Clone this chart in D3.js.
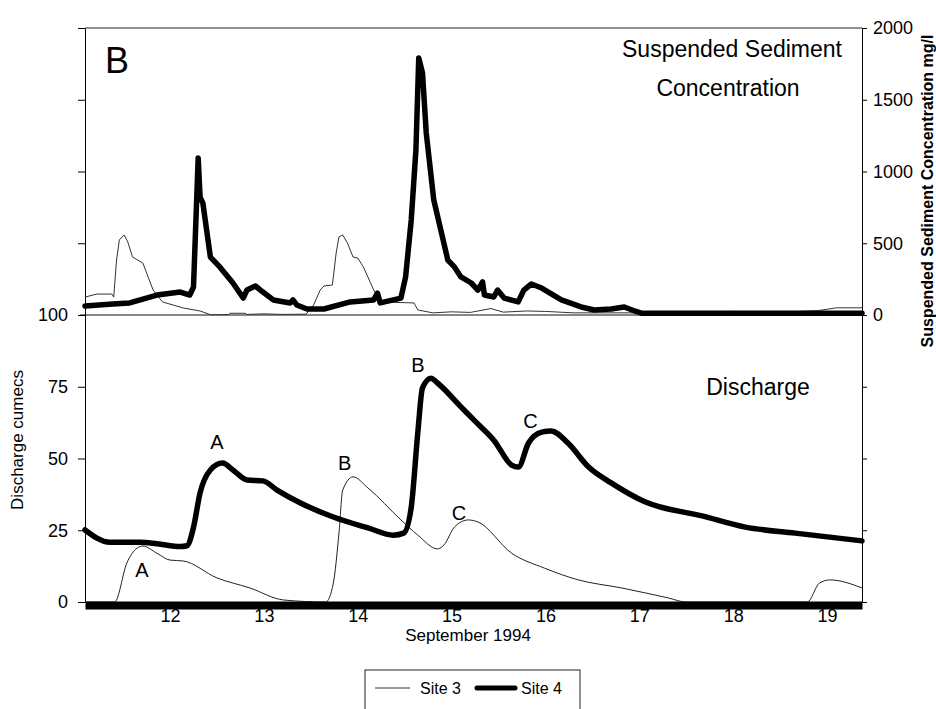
<!DOCTYPE html>
<html>
<head>
<meta charset="utf-8">
<script src="https://cdn.jsdelivr.net/npm/d3@7"></script>
<style>
  body { margin: 0; background: #fff; }
  svg { font-family: "Liberation Sans", Arial, sans-serif; }
</style>
</head>
<body>
<div class="chart"></div>
<script>
// data (days in September 1994)
const q4Day = [11.094, 11.36, 11.68, 11.86, 12.11, 12.18, 12.25, 12.32, 12.43, 12.56, 12.67, 12.82, 12.99, 13.14, 13.39, 13.74, 14.11, 14.38, 14.49, 14.57, 14.64, 14.69, 14.78, 14.85, 15.10, 15.25, 15.45, 15.64, 15.71, 15.82, 15.96, 16.06, 16.24, 16.46, 16.70, 17.06, 17.67, 18.13, 18.66, 19.373]
const q4 = [25.1, 20.8, 20.8, 20.3, 19.3, 19.6, 26, 38, 46, 48.4, 46, 42.5, 42.2, 39, 34.5, 29.6, 25.8, 23.3, 24, 33, 59, 74.6, 78, 76.3, 68, 63, 56.4, 47.7, 47, 55.4, 59.2, 59.6, 55.4, 47, 41.5, 34.9, 30, 26.1, 24, 21.3]

const q3Day = [11.094, 11.41, 11.54, 11.65, 11.71, 11.86, 12.0, 12.14, 12.50, 12.85, 13.21, 13.66, 13.74, 13.80, 13.84, 13.95, 14.11, 14.46, 14.64, 14.85, 14.92, 15.03, 15.18, 15.28, 15.64, 15.99, 16.35, 16.81, 17.31, 17.5, 18.79, 18.92, 19.03, 19.373]
const q3 = [0, 0, 13.6, 18.8, 19.5, 17, 14.6, 14.3, 8.4, 4.9, 0.7, 0, 6.6, 24, 39, 43.6, 39.7, 28.6, 23.3, 18.5, 19.9, 26.1, 28.6, 27.9, 17, 11.8, 7.7, 4.9, 1.4, 0, 0, 6.6, 7.7, 4.9]

const ssc4Day = [11.094, 11.39, 11.57, 11.86, 12.11, 12.21, 12.25, 12.30, 12.32, 12.35, 12.43, 12.53, 12.67, 12.78, 12.82, 12.91, 12.99, 13.10, 13.28, 13.31, 13.35, 13.46, 13.64, 13.92, 14.17, 14.21, 14.24, 14.46, 14.51, 14.57, 14.62, 14.65, 14.69, 14.73, 14.81, 14.96, 15.03, 15.10, 15.21, 15.28, 15.33, 15.35, 15.45, 15.49, 15.56, 15.71, 15.77, 15.85, 15.96, 16.17, 16.38, 16.52, 16.70, 16.84, 16.95, 17.03, 19.373]
const ssc4 = [63, 77, 84, 139, 160, 139, 195, 1094, 822, 780, 404, 335, 223, 118, 174, 202, 160, 105, 84, 105, 70, 42, 42, 91, 105, 153, 84, 118, 265, 662, 1150, 1791, 1687, 1268, 802, 383, 335, 265, 223, 174, 230, 139, 125, 174, 118, 91, 174, 216, 188, 105, 56, 35, 42, 56, 28, 12, 12]

const ssc3Day = [11.094, 11.22, 11.38, 11.40, 11.43, 11.46, 11.51, 11.55, 11.60, 11.71, 11.82, 11.92, 12.14, 12.32, 12.43, 12.62, 12.64, 12.80, 12.82, 13.00, 13.20, 13.45, 13.53, 13.60, 13.64, 13.73, 13.77, 13.80, 13.84, 13.89, 13.95, 14.00, 14.06, 14.17, 14.24, 14.60, 14.64, 14.80, 15.00, 15.20, 15.42, 15.55, 15.80, 16.00, 16.30, 17.00, 17.50, 18.00, 18.50, 18.90, 19.10, 19.373]
const ssc3 = [125, 146, 146, 125, 383, 523, 558, 509, 404, 362, 174, 91, 49, 28, 2, 2, 12, 12, 4, 8, 4, 6, 70, 174, 202, 209, 432, 544, 558, 502, 404, 397, 335, 174, 91, 84, 35, 15, 22, 18, 45, 20, 28, 25, 15, 15, 22, 25, 20, 30, 50, 50]

const dayTicks = [12, 13, 14, 15, 16, 17, 18, 19]
const qTicks = [0, 25, 50, 75, 100, 125, 150, 175, 200]
const sscTicks = [-2000, -1500, -1000, -500, 0, 500, 1000, 1500, 2000]

// peak labels (day, discharge)
const peakText = ["A", "A", "B", "B", "C", "C"]
const peakDay = [11.70, 12.50, 13.86, 14.64, 15.08, 15.84]
const peakQ = [8.7, 53.3, 46, 80.1, 28.6, 60.6]

const w = 936
const h = 709
const padL = 85, padR = 862, padT = 28, padB = 602

const svg = d3.select(".chart").append("svg")
  .attr("width", w)
  .attr("height", h)
  .style("background-color", "#fff")

const x = d3.scaleLinear().domain([11.094, 19.373]).range([padL, padR])
const yQ = d3.scaleLinear().domain([0, 200]).range([padB, padT])
const yS = d3.scaleLinear().domain([-2000, 2000]).range([padB, padT])

const zip = (a, b) => a.map((d, i) => [d, b[i]])

// frame lines
svg.append("line")
  .attr("x1", padL).attr("x2", padR)
  .attr("y1", yQ(200)).attr("y2", yQ(200))
  .attr("stroke", "#222").attr("stroke-width", 1)
svg.append("line")
  .attr("x1", padL - 5).attr("x2", padR)
  .attr("y1", yQ(100)).attr("y2", yQ(100))
  .attr("stroke", "#111").attr("stroke-width", 1.2)

// left axis (discharge)
const yAxisL = d3.axisLeft(yQ).tickValues(qTicks).tickSize(7).tickSizeOuter(0).tickPadding(10)
  .tickFormat(d => d <= 100 ? d : "")
svg.append("g")
  .attr("transform", "translate(" + padL + ",0)")
  .call(yAxisL)
  .call(g => g.selectAll("text").attr("font-size", 18).attr("font-family", "Liberation Sans, Arial"))

// right axis (sediment)
const yAxisR = d3.axisRight(yS).tickValues(sscTicks).tickSize(5).tickSizeOuter(0).tickPadding(6)
  .tickFormat(d => d >= 0 ? d : "")
svg.append("g")
  .attr("transform", "translate(" + padR + ",0)")
  .call(yAxisR)
  .call(g => g.selectAll("text").attr("font-size", 18).attr("font-family", "Liberation Sans, Arial"))

// lines
const qLine = d3.line().x(d => x(d[0])).y(d => yQ(d[1])).curve(d3.curveMonotoneX)
const sLine = d3.line().x(d => x(d[0])).y(d => yS(d[1]))

svg.append("path")
  .datum(zip(q3Day, q3))
  .attr("d", qLine)
  .attr("fill", "none").attr("stroke", "#222").attr("stroke-width", 1)

svg.append("path")
  .datum(zip(ssc3Day, ssc3))
  .attr("d", sLine)
  .attr("fill", "none").attr("stroke", "#333").attr("stroke-width", 1)

svg.append("path")
  .datum(zip(q4Day, q4))
  .attr("d", qLine)
  .attr("fill", "none").attr("stroke", "#000").attr("stroke-width", 5.5)
  .attr("stroke-linejoin", "round").attr("stroke-linecap", "round")

svg.append("path")
  .datum(zip(ssc4Day, ssc4))
  .attr("d", sLine)
  .attr("fill", "none").attr("stroke", "#000").attr("stroke-width", 5.5)
  .attr("stroke-linejoin", "round").attr("stroke-linecap", "round")

// bottom axis, drawn as the heavy base bar
const xAxis = d3.axisBottom(x).tickValues(dayTicks).tickSize(0).tickSizeOuter(0).tickPadding(4)
svg.append("g")
  .attr("transform", "translate(0," + (padB + 3) + ")")
  .attr("id", "x-axis")
  .call(xAxis)
  .call(g => g.select(".domain").attr("stroke-width", 8).attr("stroke", "#000"))
  .call(g => g.selectAll("text").attr("font-size", 18).attr("font-family", "Liberation Sans, Arial"))

// peak labels
svg.selectAll(".peak")
  .data(peakText)
  .enter()
  .append("text")
  .attr("class", "peak")
  .attr("x", (d, i) => x(peakDay[i]))
  .attr("y", (d, i) => yQ(peakQ[i]))
  .attr("text-anchor", "middle")
  .attr("font-size", 20)
  .text(d => d)

// titles
svg.append("text").attr("x", 105).attr("y", 73).attr("font-size", 36).text("B")
svg.append("text").attr("x", 732).attr("y", 57).attr("text-anchor", "middle").attr("font-size", 23).text("Suspended Sediment")
svg.append("text").attr("x", 728).attr("y", 96).attr("text-anchor", "middle").attr("font-size", 23).text("Concentration")
svg.append("text").attr("x", 758).attr("y", 395).attr("text-anchor", "middle").attr("font-size", 23).text("Discharge")

svg.append("text").attr("x", 468).attr("y", 641).attr("text-anchor", "middle").attr("font-size", 17).text("September 1994")

svg.append("text")
  .attr("transform", "translate(23,440) rotate(-90)")
  .attr("text-anchor", "middle").attr("font-size", 17)
  .text("Discharge cumecs")

svg.append("text")
  .attr("transform", "translate(933,191) rotate(-90)")
  .attr("text-anchor", "middle").attr("font-size", 16).attr("font-weight", "bold")
  .text("Suspended Sediment Concentration mg/l")

// legend
const lg = svg.append("g").attr("transform", "translate(365,670)")
lg.append("rect").attr("width", 215).attr("height", 50).attr("fill", "none").attr("stroke", "#222")
lg.append("line").attr("x1", 10).attr("x2", 45).attr("y1", 18).attr("y2", 18).attr("stroke", "#333").attr("stroke-width", 1)
lg.append("text").attr("x", 55).attr("y", 24).attr("font-size", 16).text("Site 3")
lg.append("line").attr("x1", 112).attr("x2", 150).attr("y1", 18).attr("y2", 18).attr("stroke", "#000").attr("stroke-width", 5).attr("stroke-linecap", "round")
lg.append("text").attr("x", 156).attr("y", 24).attr("font-size", 16).text("Site 4")
</script>
</body>
</html>
